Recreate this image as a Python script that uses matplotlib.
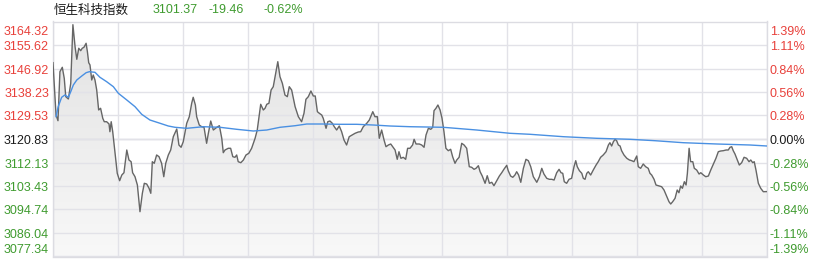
import matplotlib
matplotlib.use('Agg')

import numpy as np
import matplotlib.pyplot as plt
import matplotlib.transforms as mtransforms
from matplotlib.colors import LinearSegmentedColormap


# ------------------ DATA ------------------

index_name = '恒生科技指数'
last_price = '3101.37'
change = '-19.46'
change_pct = '-0.62%'

prev_close = 3120.83
price_ticks = [3077.34, 3086.04, 3094.74, 3103.43, 3112.13, 3120.83,
               3129.53, 3138.23, 3146.92, 3155.62, 3164.32]
pct_ticks = ['-1.39%', '-1.11%', '-0.84%', '-0.56%', '-0.28%', '0.00%',
             '0.28%', '0.56%', '0.84%', '1.11%', '1.39%']

# trading minutes since 09:30 (lunch break removed), 330 = close
minutes = [
    0, 1.4, 2.3, 3.2, 4.3, 5.2, 5.9, 7.1, 8.2, 9.2,
    10.2, 11.0, 11.9, 12.8, 13.5, 14.3, 15.3, 15.9, 16.5, 17.1,
    17.9, 18.6, 19.4, 20.2, 21.1, 22.0, 23.0, 23.7, 24.8, 25.9,
    26.3, 26.9, 27.6, 28.7, 29.7, 30.8, 31.8, 32.8, 34.1, 35.1,
    36.1, 36.8, 37.9, 39.0, 40.2, 41.3, 42.2, 43.3, 44.4, 45.2,
    45.9, 46.8, 47.9, 49.0, 50.2, 51.2, 52.1, 53.3, 54.4, 55.6,
    57.2, 58.2, 59.2, 60.2, 61.8, 63.0, 64.1, 64.8, 65.8, 66.4,
    67.6, 68.7, 69.8, 71.0, 71.8, 72.9, 74.1, 75.7, 76.9, 78.0,
    78.7, 79.5, 81.0, 82.1, 83.1, 84.1, 84.9, 85.6, 86.8, 88.0,
    89.2, 90.5, 91.8, 93.4, 94.4, 96.0, 97.2, 98.0, 98.8, 99.8,
    100.8, 101.8, 102.9, 103.9, 104.9, 106.0, 107.2, 108.3, 109.2, 110.3,
    111.9, 113.4, 114.9, 116.0, 116.9, 118.0, 119.2, 120.3, 121.2, 122.2,
    123.1, 124.2, 124.9, 126.2, 127.0, 128.0, 129.1, 130.0, 131.1, 132.3,
    133.4, 134.5, 135.7, 136.9, 138.3, 139.6, 141.1, 142.2, 143.4, 145.0,
    146.2, 147.8, 148.8, 149.9, 150.8, 151.9, 153.0, 153.9, 155.0, 156.1,
    157.0, 158.1, 159.1, 159.9, 160.8, 161.9, 163.0, 163.9, 165.0, 166.2,
    166.9, 167.8, 169.3, 170.4, 171.5, 172.4, 173.5, 174.6, 175.5, 176.1,
    177.0, 177.9, 178.9, 179.8, 180.7, 181.6, 182.7, 183.8, 184.7, 185.8,
    186.6, 187.7, 188.9, 190.0, 191.2, 192.4, 193.5, 194.6, 195.5, 196.6,
    197.4, 198.4, 199.7, 200.7, 201.7, 202.8, 203.8, 205.1, 206.3, 207.4,
    208.4, 209.7, 210.4, 211.5, 212.5, 213.5, 214.3, 215.2, 216.2, 217.4,
    218.6, 219.7, 220.8, 222.0, 223.6, 224.8, 225.9, 226.9, 228.2, 229.4,
    230.5, 231.6, 232.8, 233.9, 234.8, 235.6, 236.3, 237.4, 238.5, 239.7,
    240.8, 241.6, 242.3, 243.3, 244.4, 245.1, 245.9, 246.7, 247.4, 248.5,
    249.7, 251.0, 252.0, 253.1, 254.3, 255.6, 256.7, 257.4, 258.2, 259.0,
    259.8, 260.5, 261.3, 262.1, 262.8, 263.9, 265.2, 266.4, 267.5, 268.5,
    269.8, 270.5, 271.6, 272.8, 273.9, 275.1, 275.9, 276.7, 277.8, 278.7,
    279.8, 281.3, 282.4, 283.7, 284.7, 285.5, 286.4, 287.5, 288.5, 289.3,
    290.1, 290.9, 291.8, 292.6, 293.2, 294.0, 294.7, 295.7, 296.4, 297.5,
    298.6, 299.4, 300.6, 301.7, 302.9, 304.0, 305.2, 306.4, 307.5, 308.6,
    309.8, 311.1, 312.1, 312.9, 313.7, 314.4, 315.2, 316.3, 317.2, 318.3,
    319.4, 320.6, 321.7, 322.5, 323.4, 324.1, 324.9, 326.0, 327.1, 328.3,
    330,
]

prices = [
    3149.08, 3129.71, 3127.60, 3145.74, 3147.37, 3143.30, 3136.49, 3135.64, 3141.45, 3163.14,
    3155.00, 3150.33, 3154.41, 3153.52, 3154.41, 3154.78, 3156.26, 3153.15, 3149.08, 3148.22,
    3142.67, 3144.52, 3142.67, 3138.97, 3131.57, 3132.20, 3128.49, 3127.23, 3127.23, 3126.38,
    3123.53, 3127.23, 3123.53, 3115.54, 3108.13, 3105.39, 3107.50, 3108.35, 3116.76, 3113.06,
    3112.43, 3108.35, 3106.87, 3103.80, 3093.92, 3100.73, 3104.43, 3104.17, 3102.58, 3100.73,
    3112.43, 3111.83, 3114.91, 3114.28, 3111.83, 3106.87, 3111.83, 3114.91, 3116.76, 3121.68,
    3124.53, 3118.61, 3117.76, 3119.83, 3126.64, 3129.09, 3134.05, 3136.27, 3133.42, 3129.09,
    3126.01, 3125.38, 3125.16, 3119.24, 3122.94, 3127.49, 3124.16, 3125.16, 3125.75, 3121.09,
    3115.76, 3116.76, 3117.39, 3117.39, 3114.28, 3114.06, 3114.91, 3112.43, 3112.06, 3113.06,
    3114.91, 3115.54, 3117.39, 3121.09, 3124.16, 3133.68, 3131.57, 3132.20, 3133.68, 3134.05,
    3138.97, 3140.19, 3145.15, 3149.45, 3143.89, 3141.45, 3137.12, 3136.49, 3140.19, 3138.97,
    3132.79, 3129.09, 3127.23, 3130.34, 3135.53, 3136.49, 3138.60, 3136.75, 3136.75, 3130.94,
    3130.34, 3129.71, 3128.49, 3124.79, 3127.23, 3127.49, 3126.64, 3125.38, 3124.16, 3125.64,
    3123.53, 3120.46, 3118.61, 3121.68, 3122.31, 3122.94, 3123.42, 3123.53, 3125.38, 3126.64,
    3127.86, 3130.94, 3129.09, 3129.09, 3121.09, 3124.16, 3120.46, 3117.98, 3118.61, 3118.98,
    3117.98, 3116.76, 3113.31, 3116.13, 3113.69, 3114.06, 3113.31, 3117.39, 3117.39, 3118.61,
    3120.72, 3118.98, 3118.98, 3118.61, 3117.76, 3122.31, 3124.79, 3124.42, 3125.16, 3131.31,
    3132.20, 3133.42, 3131.57, 3128.49, 3123.53, 3117.39, 3116.50, 3117.02, 3114.28, 3111.83,
    3113.06, 3114.06, 3119.24, 3118.61, 3117.39, 3110.58, 3110.35, 3109.61, 3109.98, 3110.95,
    3108.72, 3107.13, 3104.43, 3107.24, 3104.43, 3104.80, 3103.54, 3105.39, 3107.13, 3108.35,
    3109.61, 3111.09, 3109.09, 3107.13, 3106.65, 3107.50, 3108.72, 3107.50, 3104.80, 3109.98,
    3113.31, 3112.80, 3110.58, 3106.87, 3104.80, 3106.87, 3109.98, 3107.87, 3106.28, 3105.91,
    3105.91, 3105.65, 3108.35, 3109.61, 3108.35, 3108.13, 3105.02, 3104.43, 3105.91, 3106.28,
    3110.58, 3112.80, 3110.58, 3109.09, 3108.13, 3106.28, 3105.91, 3108.13, 3108.72, 3107.50,
    3109.35, 3111.20, 3112.43, 3114.06, 3114.91, 3116.13, 3118.61, 3119.46, 3118.24, 3119.83,
    3120.72, 3120.20, 3118.61, 3118.24, 3116.50, 3114.91, 3113.69, 3113.06, 3112.80, 3112.43,
    3114.54, 3110.58, 3109.98, 3111.57, 3110.58, 3109.98, 3108.13, 3107.50, 3105.91, 3103.80,
    3103.54, 3103.17, 3101.95, 3099.47, 3097.62, 3096.77, 3097.62, 3098.88, 3101.95, 3100.95,
    3103.43, 3102.58, 3105.02, 3103.80, 3108.13, 3117.39, 3112.43, 3112.43, 3109.98, 3109.35,
    3107.87, 3108.35, 3107.50, 3106.87, 3107.13, 3109.35, 3111.57, 3113.69, 3116.13, 3116.39,
    3116.50, 3116.76, 3116.76, 3117.76, 3117.98, 3116.50, 3115.28, 3113.06, 3111.20, 3112.06,
    3114.06, 3113.69, 3112.43, 3113.06, 3112.06, 3112.43, 3109.35, 3104.43, 3102.58, 3101.32,
    3101.37,
]

# average price line
avg_minutes = [1.4, 2.4, 4.0, 5.5, 7.1, 8.2, 9.4, 11.0, 13.3, 15.3,
               16.8, 19.4, 21.7, 24.8, 27.9, 30.2, 34.1, 37.9, 41.0, 44.8,
               49.5, 53.3, 56.4, 61.8, 69.5, 77.2, 84.9, 92.6, 98.8, 104.9,
               111.9, 117.3, 124.9, 132.6, 140.4, 148.0, 155.8, 165.0, 180.4, 195.8,
               211.2, 220.5, 235.9, 251.3, 266.7, 278.2, 291.3, 306.8, 322.1, 330]
avg_prices = [3129.09, 3132.79, 3136.27, 3137.12, 3136.27, 3138.34, 3140.82, 3142.67, 3144.15, 3145.37,
              3145.74, 3145.52, 3143.67, 3142.04, 3140.19, 3137.75, 3135.27, 3132.79, 3129.97, 3127.86,
              3126.64, 3125.64, 3125.16, 3124.79, 3125.38, 3125.16, 3124.42, 3123.79, 3124.16, 3125.16,
              3125.75, 3126.38, 3126.38, 3126.27, 3126.27, 3126.01, 3125.64, 3125.38, 3125.16, 3124.16,
              3122.94, 3122.57, 3121.68, 3121.09, 3120.72, 3120.20, 3119.46, 3118.98, 3118.61, 3118.24]

RED = '#e8403a'
GREEN = '#3f9b2f'
GRID = '#e2e2e8'


# ------------------ FIGURE ------------------

W, H = 816, 260
fig = plt.figure(figsize=(W / 100, H / 100), dpi=100)
ax = fig.add_axes([53 / W, 3.5 / H, 714 / W, 235 / H])

ymin, ymax = price_ticks[0], price_ticks[-1]

# grid
ax.set_xticks(range(0, 331, 30))
ax.set_yticks(price_ticks)
ax.tick_params(length=0, labelleft=False, labelbottom=False)
ax.grid(True, color=GRID, lw=1)
ax.axhline(prev_close, color='#cfd0d8', lw=1, zorder=1.5)
for s in ax.spines.values():
    s.set_color('#dcdce2')
    s.set_linewidth(1)

# gradient fill under the price line
poly = ax.fill_between(minutes, prices, ymin, color='none', lw=0)
cmap = LinearSegmentedColormap.from_list('fill', ['#f8f8f8', '#e2e2e2'])
grad = np.linspace(0, 1, 256).reshape(-1, 1)
im = ax.imshow(grad, extent=[0, 330, ymin, ymax], origin='lower',
               aspect='auto', cmap=cmap, zorder=1)
im.set_clip_path(poly.get_paths()[0], transform=ax.transData)

ax.plot(minutes, prices, color='#666666', lw=1.0, zorder=3)
ax.plot(avg_minutes, avg_prices, color='#4a90e2', lw=1.0, zorder=3)

ax.set_xlim(0, 330)
ax.set_ylim(ymin, ymax)

# axis labels (top / bottom ones pushed inside)
n = len(price_ticks)
for i, (p, pct) in enumerate(zip(price_ticks, pct_ticks)):
    if i == n - 1:
        dy = -10.5
    elif i == 0:
        dy = 6.5
    else:
        dy = -2
    if p > prev_close:
        c = RED
    elif p < prev_close:
        c = GREEN
    else:
        c = '#1a1a1a'
    tl = mtransforms.offset_copy(ax.get_yaxis_transform(), fig=fig, x=-4, y=dy, units='dots')
    ax.text(0, p, '%.2f' % p, transform=tl, ha='right', va='center',
            color=c, fontsize=9, family='Liberation Sans')
    tr = mtransforms.offset_copy(ax.get_yaxis_transform(), fig=fig, x=3, y=dy, units='dots')
    ax.text(1, p, pct, transform=tr, ha='left', va='center',
            color=c, fontsize=9, family='Liberation Sans')

# header
ty = 1 - 10 / H
fig.text(54 / W, ty, index_name, ha='left', va='center', fontsize=9,
         color='#1a1a1a', family=['Noto Sans CJK SC', 'DejaVu Sans'])
fig.text(153 / W, ty, last_price, ha='left', va='center', fontsize=9,
         color=GREEN, family='Liberation Sans')
fig.text(209 / W, ty, change, ha='left', va='center', fontsize=9,
         color=GREEN, family='Liberation Sans')
fig.text(263 / W, ty, change_pct, ha='left', va='center', fontsize=9,
         color=GREEN, family='Liberation Sans')

plt.savefig('out.png', dpi=100)
plt.close()
